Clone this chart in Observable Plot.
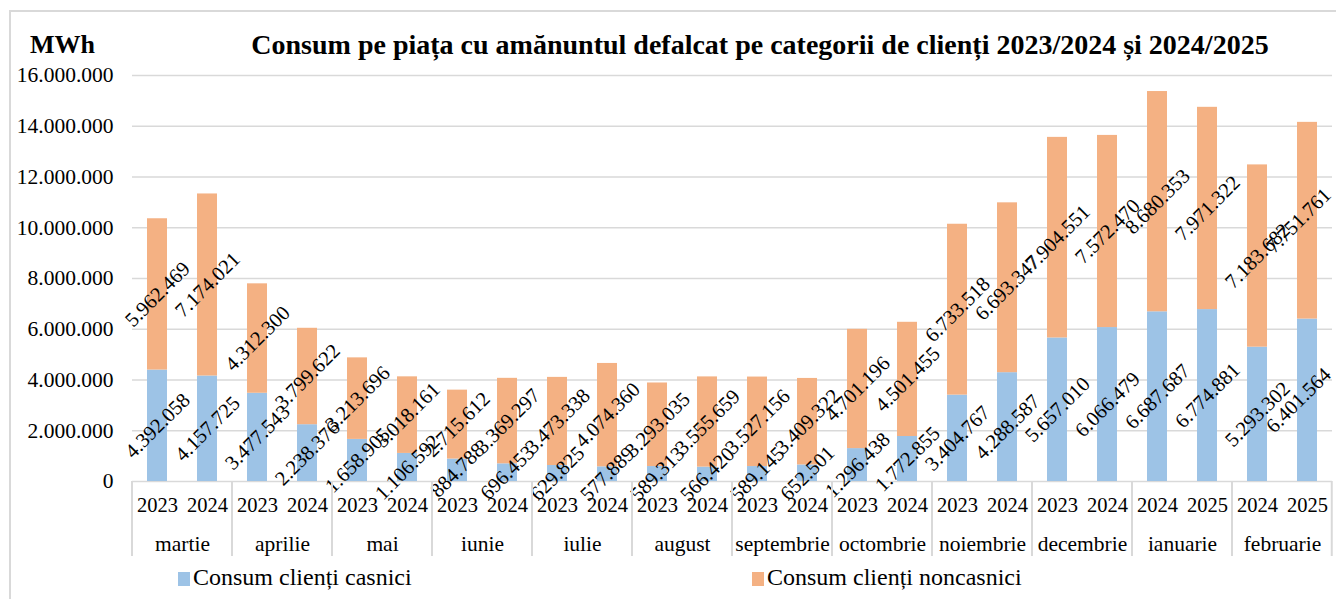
<!DOCTYPE html>
<html>
<head>
<meta charset="utf-8">
<script src="https://cdn.jsdelivr.net/npm/d3@7"></script>
<script src="https://cdn.jsdelivr.net/npm/@observablehq/plot@0.6"></script>
<style>
  html, body { margin: 0; padding: 0; background: #fff; }
  #wrap { position: relative; width: 1336px; height: 599px; overflow: hidden; font-family: "Liberation Serif", "Times New Roman", serif; color: #000; }
  #border { position: absolute; left: 9px; top: 10px; width: 1400px; height: 700px; border: 2px solid #d9d9d9; box-sizing: border-box; }
  #unit { position: absolute; left: 30px; top: 30px; font-size: 26px; font-weight: bold; }
  #title { position: absolute; left: 0; width: 1520px; top: 29px; text-align: center; font-size: 28px; font-weight: bold; }
  #chart { position: absolute; left: 0; top: 62px; }
  #chart svg, #chart svg text { font-family: "Liberation Serif", "Times New Roman", serif !important; }
  #legend { position: absolute; top: 564px; left: 0; width: 1336px; font-size: 24px; }
  .li { position: absolute; top: 0; white-space: nowrap; }
  .sw { display: inline-block; width: 12px; height: 14px; margin-right: 3px; vertical-align: -1px; }
</style>
</head>
<body>
<div id="wrap">
  <div id="border"></div>
  <div id="unit">MWh</div>
  <div id="title">Consum pe piața cu amănuntul defalcat pe categorii de clienți 2023/2024 și 2024/2025</div>
  <div id="chart"></div>
  <div id="legend"></div>
</div>
<script>
const months = ["martie","aprilie","mai","iunie","iulie","august","septembrie","octombrie","noiembrie","decembrie","ianuarie","februarie"];
const yearsA = ["2023","2023","2023","2023","2023","2023","2023","2023","2023","2023","2024","2024"];
const yearsB = ["2024","2024","2024","2024","2024","2024","2024","2024","2024","2024","2025","2025"];
const casniciA = [4392058, 3477543, 1658905, 884788, 629825, 589313, 589145, 1296438, 3404767, 5657010, 6687687, 5293302];
const casniciB = [4157725, 2238376, 1106592, 696453, 577889, 566420, 652501, 1772855, 4288587, 6066479, 6774881, 6401564];
const noncasniciA = [5962469, 4312300, 3213696, 2715612, 3473338, 3293035, 3527156, 4701196, 6733518, 7904551, 8680353, 7183682];
const noncasniciB = [7174021, 3799622, 3018161, 3369297, 4074360, 3555659, 3409322, 4501455, 6693347, 7572470, 7971322, 7751761];
const seriesNames = ["Consum clienți casnici", "Consum clienți noncasnici"];
const colors = ["#9DC3E6", "#F4B183"];
const yTicks = [0, 2000000, 4000000, 6000000, 8000000, 10000000, 12000000, 14000000, 16000000];

const fmt = v => d3.format(",")(v).replace(/,/g, ".");
const serif = "Liberation Serif";

const rows = [];
months.forEach((m, i) => {
  rows.push({month: m, slot: "a", year: yearsA[i], series: seriesNames[0], value: casniciA[i]});
  rows.push({month: m, slot: "b", year: yearsB[i], series: seriesNames[0], value: casniciB[i]});
});
months.forEach((m, i) => {
  rows.push({month: m, slot: "a", year: yearsA[i], series: seriesNames[1], value: noncasniciA[i]});
  rows.push({month: m, slot: "b", year: yearsB[i], series: seriesNames[1], value: noncasniciB[i]});
});
const yearRows = rows.filter(r => r.series === seriesNames[0]);
const lastMonth = months[months.length - 1];
const isLast = r => r.month === lastMonth && r.slot === "b";

const labelOpts = (dx) => ({fx: "month", x: "slot", y: "value", z: "series", order: seriesNames, text: d => fmt(d.value), rotate: -45, fill: "#000", fontFamily: serif, fontSize: 20.5, dx});

const chart = Plot.plot({
  width: 1336,
  height: 500,
  marginLeft: 127,
  marginRight: 0,
  marginTop: 13,
  marginBottom: 81,
  style: {fontSize: "20px", color: "#000", background: "transparent"},
  fx: {domain: months, padding: 0, label: null},
  x: {domain: ["a", "b"], paddingInner: 0.6, paddingOuter: 0.3, axis: null},
  y: {domain: [0, 16000000], label: null},
  color: {domain: seriesNames, range: colors},
  marks: [
    Plot.gridY(yTicks, {stroke: "#d9d9d9", strokeOpacity: 1, strokeWidth: 1.5}),
    Plot.axisY(yTicks, {tickSize: 0, tickPadding: 19, tickFormat: fmt, label: null, fontFamily: serif, fontSize: 21.5, fontVariant: "normal"}),
    Plot.barY(rows, Plot.stackY({fx: "month", x: "slot", y: "value", z: "series", fill: "series", order: seriesNames})),
    Plot.text(rows, Plot.stackY({...labelOpts(0), filter: r => !isLast(r)})),
    Plot.text(rows, Plot.stackY({...labelOpts(-9), filter: r => isLast(r)})),
    Plot.text(yearRows, {fx: "month", x: "slot", text: "year", frameAnchor: "bottom", dy: 24, lineAnchor: "middle", fill: "#000", fontFamily: serif, fontSize: 20.5}),
    Plot.axisFx({anchor: "bottom", tickSize: 0, tickPadding: 54, label: null, fontFamily: serif, fontSize: 21.5})
  ]
});
document.getElementById("chart").appendChild(chart);

// month separators below the baseline
const fxs = chart.scale("fx");
const ys = chart.scale("y");
const y0 = ys.apply ? ys.apply(0) : 419;
const step = (fxs.range[1] - fxs.range[0]) / months.length;
const edges = months.map((m, i) => fxs.apply ? fxs.apply(m) : fxs.range[0] + i * step);
edges.push(edges[edges.length - 1] + step - 1);
const g = d3.select(chart).append("g").attr("stroke", "#d9d9d9").attr("stroke-width", 2);
edges.forEach(x => {
  g.append("line").attr("x1", x).attr("x2", x).attr("y1", y0).attr("y2", y0 + 75);
});

// legend
const legend = document.getElementById("legend");
const legendX = [178, 752];
seriesNames.forEach((s, i) => {
  const d = document.createElement("div");
  d.className = "li";
  d.style.left = legendX[i] + "px";
  d.innerHTML = `<span class="sw" style="background:${colors[i]}"></span>${s}`;
  legend.appendChild(d);
});
</script>
</body>
</html>
